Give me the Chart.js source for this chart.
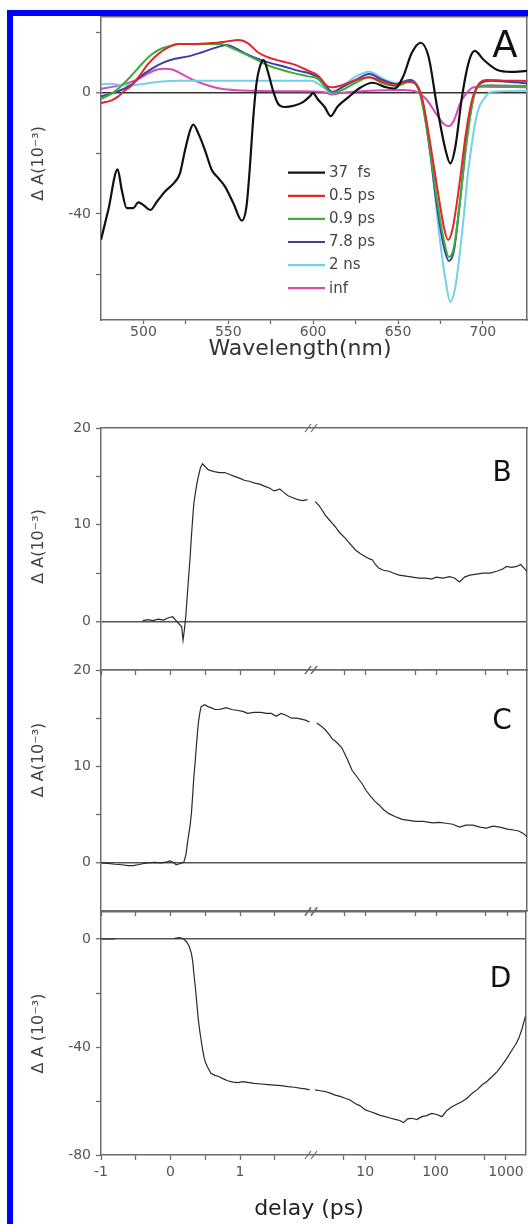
<!DOCTYPE html>
<html>
<head>
<meta charset="utf-8">
<script src="https://cdn.jsdelivr.net/npm/chart.js@4.4.1/dist/chart.umd.min.js"></script>
<style>
  html, body { margin: 0; padding: 0; background: #fff; }
  #page { position: relative; width: 528px; height: 1224px; overflow: hidden; background: #fff; }
  #frame { position: absolute; left: 7px; top: 10px; right: -20px; bottom: -20px;
           border-left: 6px solid #0000ff; border-top: 6px solid #0000ff; }
  canvas { position: absolute; }
  #delayTitle { position: absolute; left: 209px; top: 1195px; width: 200px; height: 28px;
                text-align: center; line-height: 28px; color: #222;
                font: 22px 'DejaVu Sans', sans-serif; }
</style>
</head>
<body>
<div id="page">
  <div id="frame"></div>
  <canvas id="chartA" width="528" height="400" style="left:0;top:0"></canvas>
  <canvas id="bLin" width="311" height="270" style="left:0;top:414px"></canvas>
  <canvas id="bLog" width="228" height="270" style="left:300px;top:414px"></canvas>
  <canvas id="cLin" width="311" height="269" style="left:0;top:656px"></canvas>
  <canvas id="cLog" width="228" height="269" style="left:300px;top:656px"></canvas>
  <canvas id="dLin" width="311" height="326" style="left:0;top:898px"></canvas>
  <canvas id="dLog" width="228" height="326" style="left:300px;top:898px"></canvas>
  <div id="delayTitle">delay (ps)</div>
</div>
<script>
// ---- panel A : transient spectra (wavelength nm, dA 10^-3) ----
const seriesNames = ['37  fs', '0.5 ps', '0.9 ps', '7.8 ps', '2 ns', 'inf'];
const seriesColors = ['#111111', '#e3262b', '#3aae3a', '#3b3fa6', '#74d0ea', '#d64cb4'];

const wl37fs = [475, 479.3, 484.8, 487.2, 490.2, 494, 497, 500, 504, 508, 512.7, 518.6, 521.5, 524.5, 527.5, 529.4, 532.4, 536.3, 540.3, 544.2, 548.1, 553, 558, 560.7, 562.6, 564.6, 566.6, 568.5, 570.8, 573.4, 576.3, 579.3, 583.2, 589.1, 594, 598, 600, 602.5, 606.8, 610.3, 614.3, 621.2, 627, 635, 643, 648, 653, 658, 663.3, 668, 673, 678, 680.8, 683.8, 687.7, 691.7, 695.2, 700.6, 708.5, 716.5, 726];
const dA37fs = [-48.5, -38.7, -25.3, -32, -38.1, -38.1, -36.2, -37.1, -38.7, -35.9, -32.6, -29.4, -26.6, -19, -12.4, -10.5, -13.5, -19, -25.5, -28.2, -31, -36.5, -42.2, -37.6, -25.5, -9.1, 3, 8.4, 10.8, 6.8, 0.8, -3.6, -4.7, -4.2, -3.1, -1.2, -0.1, -2, -4.7, -7.7, -4.6, -1.3, 1.4, 3.3, 1.8, 1.4, 5.3, 13, 16.5, 11.9, -4.6, -18.9, -23.3, -17.8, -1.3, 10.2, 13.8, 10.8, 7.5, 6.9, 7.2];

const wl05ps = [475, 481.2, 485.2, 489.1, 493, 497, 502.8, 508.7, 514.6, 520.5, 530.3, 540.1, 550, 555.8, 561.7, 567.6, 573.4, 581.3, 589.1, 597, 602.8, 607.8, 611, 617, 625, 633, 641, 647, 655, 660, 664, 668, 673, 677, 679.5, 682, 686, 690, 693.6, 697.6, 702.6, 712.5, 726];
const dA05ps = [-3.4, -2.5, -1.2, 0.8, 2.4, 5.1, 9.5, 12.8, 15, 16.1, 16.1, 16.4, 17, 17.4, 16.3, 13.3, 11.7, 10.4, 9.3, 7.3, 5.7, 2.4, 1.8, 2.5, 4.2, 5.1, 3.6, 2.5, 3.6, 3.1, -1.3, -13.4, -31, -44.2, -48.6, -45.3, -31, -13.4, -2.4, 2.9, 4.2, 4, 3.9];

const wl09ps = [475, 481.2, 487.2, 493, 499, 504.8, 510.7, 516.6, 520.5, 530.3, 540.1, 546, 551.9, 557.8, 565.6, 573.4, 581.3, 589.1, 597, 602.8, 608.7, 611, 617, 625, 633, 641, 649, 657, 662, 668, 673, 677, 680, 683, 686.6, 690.6, 694.6, 698.5, 704.5, 726];
const dA09ps = [-2, -0.3, 2.4, 5.7, 9.5, 12.6, 14.6, 15.5, 16.1, 16, 16.1, 16.1, 14.8, 13.3, 11.2, 9, 7.6, 6.4, 5.4, 4.6, 0.8, 0, 0.9, 3.3, 5.1, 3.1, 2.2, 3.6, 1.4, -15.6, -35.4, -48.6, -54.2, -50.8, -35.4, -15.6, -1.3, 2.3, 2.5, 2.2];

const wl78ps = [475, 481.2, 487.2, 493, 499, 504.8, 510.7, 518.5, 526.4, 534.2, 542.1, 549, 553.8, 559.7, 567.6, 575.4, 583.2, 591, 598.9, 604.8, 609.7, 611, 617, 625, 633, 641, 649, 657, 661, 665, 669, 673, 677, 680, 683, 686.6, 690.6, 694.6, 698.5, 704.5, 726];
const dA78ps = [-1.2, -0.3, 1, 2.7, 5.7, 7.9, 9.7, 11.2, 12, 13.3, 14.8, 15.8, 14.8, 13, 11.2, 9.7, 8.6, 7.3, 6.2, 4.3, 0.8, 0.3, 1.8, 4.2, 6.2, 4.2, 2.9, 4.2, 2.5, -4.6, -20, -37.6, -50.8, -55.5, -51.9, -35.4, -14.5, -1.3, 3.1, 4, 3.1];

const wl2ns = [475, 480.3, 485.2, 493, 500.9, 510.7, 520.5, 540, 559.7, 579.3, 598.9, 606.8, 611, 617, 625, 633, 641, 649, 657, 662, 666, 670, 674, 678, 680.8, 683.8, 687.7, 691.7, 696.6, 701.6, 705.5, 726];
const dA2ns = [2.8, 3.0, 2.6, 2.5, 3, 3.7, 4, 4, 4, 4, 4, 1.4, -0.2, 2, 5.3, 6.9, 4.7, 3.1, 4.2, 1.8, -6.9, -24.4, -45.3, -61.8, -69, -64, -46.4, -24.4, -6.9, -1.3, 0.3, 0.7];

const wlInf = [475, 483.2, 491, 497, 502.8, 507.7, 512.6, 517.5, 522.5, 530.3, 538.1, 546, 555.8, 569.5, 589.1, 606.8, 611, 617, 633, 653, 661, 667, 673, 677, 680, 683, 686.6, 690.6, 694.6, 700.6, 726];
const dAInf = [1.3, 2.1, 3.2, 4.6, 6.4, 7.6, 7.9, 7.6, 6.2, 4, 2.4, 1.3, 0.8, 0.6, 0.5, 0.2, -0.6, 0, 0.7, 0.9, 0.3, -2.4, -7.4, -10.3, -11, -9.1, -3.5, 0, 1.8, 2, 1.8];

// ---- panels B, C, D : kinetics (delay ps, dA 10^-3); linear part then log part ----
const tB1 = [-0.4, -0.33, -0.25, -0.18, -0.1, -0.03, 0.03, 0.08, 0.13, 0.16, 0.18, 0.2, 0.22, 0.25, 0.28, 0.3, 0.32, 0.335, 0.36, 0.38, 0.41, 0.43, 0.46, 0.5, 0.54, 0.58, 0.63, 0.7, 0.78, 0.85, 0.92, 1.0, 1.06, 1.13, 1.21, 1.28, 1.35, 1.42, 1.49, 1.54, 1.57, 1.62, 1.69, 1.76, 1.83, 1.9, 1.97];
const dB1 = [0.1, 0.2, 0.1, 0.25, 0.15, 0.4, 0.5, 0.1, -0.3, -0.5, -1.9, -0.8, 0.6, 3.6, 6.5, 8.8, 10.8, 12.2, 13.4, 14.3, 15.3, 15.9, 16.3, 16.0, 15.7, 15.6, 15.5, 15.4, 15.4, 15.2, 15.0, 14.8, 14.6, 14.5, 14.3, 14.2, 14.0, 13.8, 13.5, 13.6, 13.7, 13.4, 13.0, 12.8, 12.6, 12.5, 12.6];
const tB2 = [1.94, 2.2, 2.45, 2.7, 3.0, 3.35, 3.74, 4.3, 5.2, 6.1, 7.2, 8.5, 10, 11.2, 12.4, 13.8, 15.5, 18, 21.4, 25, 29.8, 37, 46, 57, 71, 85, 100, 125, 153, 180, 212, 250, 295, 370, 456, 570, 707, 850, 980, 1150, 1360, 1550, 1740, 1900];
const dB2 = [12.4, 12.0, 11.5, 11.0, 10.6, 10.2, 9.8, 9.2, 8.6, 8.0, 7.4, 7.0, 6.7, 6.5, 6.4, 5.9, 5.5, 5.3, 5.2, 5.0, 4.8, 4.7, 4.6, 4.5, 4.5, 4.4, 4.6, 4.5, 4.65, 4.5, 4.1, 4.6, 4.8, 4.9, 5.0, 5.0, 5.2, 5.4, 5.7, 5.6, 5.7, 5.9, 5.5, 5.2];

const tC1 = [-1, -0.9, -0.8, -0.7, -0.61, -0.54, -0.47, -0.4, -0.33, -0.23, -0.13, -0.05, -0.01, 0.04, 0.08, 0.13, 0.19, 0.22, 0.25, 0.28, 0.3, 0.32, 0.335, 0.355, 0.37, 0.385, 0.4, 0.42, 0.44, 0.49, 0.54, 0.58, 0.64, 0.7, 0.75, 0.8, 0.88, 0.97, 1.04, 1.11, 1.2, 1.3, 1.38, 1.45, 1.52, 1.59, 1.66, 1.74, 1.81, 1.88, 1.94, 2.0];
const dC1 = [0, -0.05, -0.15, -0.2, -0.3, -0.3, -0.2, -0.1, 0, 0.05, 0, 0.1, 0.2, 0.05, -0.2, -0.1, 0.05, 0.8, 2.4, 3.8, 5.1, 7.2, 8.9, 10.5, 12.0, 13.3, 14.5, 15.5, 16.2, 16.4, 16.2, 16.1, 15.9, 15.9, 16.0, 16.1, 15.9, 15.8, 15.7, 15.5, 15.6, 15.6, 15.5, 15.5, 15.2, 15.5, 15.3, 15.0, 15.0, 14.9, 14.8, 14.6];
const tC2 = [2.05, 2.35, 2.7, 3.0, 3.35, 3.9, 4.65, 5.5, 6.45, 7.6, 8.95, 10.2, 11.8, 13.5, 15.5, 18, 21.4, 26, 33, 41, 51, 65, 88, 110, 137, 170, 212, 260, 329, 410, 509, 630, 787, 1000, 1217, 1450, 1686, 1900];
const dC2 = [14.5, 14.2, 13.8, 13.4, 12.9, 12.5, 11.9, 10.8, 9.6, 8.9, 8.2, 7.5, 6.9, 6.4, 6.0, 5.5, 5.1, 4.8, 4.5, 4.4, 4.3, 4.3, 4.15, 4.2, 4.1, 4.0, 3.7, 3.9, 3.9, 3.7, 3.6, 3.8, 3.7, 3.5, 3.4, 3.3, 3.05, 2.7];

const tD1 = [-1, -0.9, -0.8, -0.75, 0.06, 0.1, 0.13, 0.18, 0.23, 0.27, 0.3, 0.32, 0.335, 0.355, 0.37, 0.385, 0.4, 0.42, 0.44, 0.46, 0.48, 0.5, 0.53, 0.58, 0.64, 0.7, 0.76, 0.82, 0.9, 0.97, 1.04, 1.11, 1.2, 1.3, 1.4, 1.49, 1.59, 1.69, 1.78, 1.88, 1.94, 2.0];
const dD1 = [0, 0, 0, null, 0.2, 0.4, 0.5, 0.2, -1.0, -2.8, -5.3, -8.5, -12.7, -17.5, -21.4, -25.8, -30, -34, -37.4, -40.8, -43.6, -45.6, -47.3, -49.7, -50.5, -51, -51.8, -52.5, -53.0, -53.2, -52.8, -53.1, -53.5, -53.7, -53.9, -54.1, -54.3, -54.7, -54.9, -55.3, -55.5, -55.9];
const tD2 = [1.94, 2.3, 2.7, 3.2, 3.74, 4.4, 5.2, 6.1, 7.2, 8.5, 10, 11.7, 13.9, 16.4, 19.3, 22.6, 26.7, 31, 35, 40, 46, 54, 64, 75, 88, 104, 123, 145, 171, 200, 236, 280, 329, 390, 456, 540, 633, 750, 880, 1030, 1217, 1380, 1520, 1680, 1800, 1900];
const dD2 = [-55.9, -56.2, -56.5, -57.1, -57.8, -58.3, -59.0, -59.6, -60.9, -61.8, -63.3, -63.9, -64.6, -65.3, -65.8, -66.3, -66.8, -67.2, -68.0, -66.6, -66.4, -66.9, -65.8, -65.4, -64.6, -65.0, -65.8, -63.5, -62.1, -61.2, -60.3, -59.0, -57.2, -55.8, -54.1, -52.7, -51.0, -49.1, -46.7, -44.2, -41.1, -39.0, -36.8, -33.5, -30.6, -28.5];

// ---- ticks and tick labels ----
const wlTicks = [500, 525, 550, 575, 600, 625, 650, 675, 700];
const wlLabels = [500, 550, 600, 650, 700];
const yTicksA = [-60, -40, -20, 0, 20];
const yLabelsA = [-40, 0];
const yTicksBC = [0, 5, 10, 15, 20];
const yLabelsBC = [0, 10, 20];
const yTicksD = [-80, -60, -40, -20, 0];
const yLabelsD = [-80, -40, 0];
const linTicks = [-1, -0.5, 0, 0.5, 1, 1.5];
const linLabels = [-1, 0, 1];
const logTicks = [5, 10, 50, 100, 500, 1000];
const logLabels = [10, 100, 1000];

const AXIS = '#6c6c6c';
const FONT = "'DejaVu Sans', sans-serif";
Chart.defaults.font.family = FONT;
Chart.defaults.color = '#555';
Chart.defaults.animation = false;
Chart.defaults.plugins.legend.display = false;
Chart.defaults.plugins.tooltip.enabled = false;

function pts(xs, ys) { return xs.map((x, i) => ({ x: x, y: ys[i] })); }
function fixedTicks(list) { return s => { s.ticks = list.map(v => ({ value: v })); }; }
function onlyLabels(list) { return v => (list.includes(v) ? String(v) : ''); }

// letters, legend and the "//" axis break
const decor = {
  id: 'decor',
  afterDraw(chart, args, o) {
    const ctx = chart.ctx, a = chart.chartArea;
    ctx.save();
    if (o.letter) {
      ctx.font = o.letterSize + 'px ' + FONT;
      ctx.fillStyle = '#111';
      ctx.textAlign = 'center';
      ctx.textBaseline = 'middle';
      ctx.fillText(o.letter, a.right + o.letterDx, a.top + o.letterDy);
    }
    if (o.breakMark) {
      ctx.strokeStyle = AXIS;
      ctx.lineWidth = 1.2;
      [a.top, a.bottom].forEach(y => {
        [-3, 3].forEach(dx => {
          ctx.beginPath();
          ctx.moveTo(a.left + dx - 3, y + 4);
          ctx.lineTo(a.left + dx + 3, y - 4);
          ctx.stroke();
        });
      });
    }
    if (o.key) {
      ctx.font = '15px ' + FONT;
      ctx.textAlign = 'left';
      ctx.textBaseline = 'middle';
      chart.data.datasets.forEach((d, i) => {
        const y = a.top + o.key.dy + i * o.key.step;
        const x0 = a.left + o.key.dx;
        ctx.strokeStyle = d.borderColor;
        ctx.lineWidth = 2.2;
        ctx.beginPath();
        ctx.moveTo(x0, y);
        ctx.lineTo(x0 + o.key.len, y);
        ctx.stroke();
        ctx.fillStyle = '#444';
        ctx.fillText(d.label, x0 + o.key.len + 4, y + 0.5);
      });
    }
    ctx.restore();
  }
};

function frameTop() {
  return {
    type: 'linear', position: 'top', min: 0, max: 1, bounds: 'data',
    afterFit: s => { s.height = 0; },
    ticks: { display: false }, grid: { display: false },
    border: { color: AXIS, width: 1.5 }
  };
}

function leftY(min, max, tickList, labelList, title, zeroColor) {
  return {
    type: 'linear', position: 'left', min: min, max: max, bounds: 'data',
    afterBuildTicks: fixedTicks(tickList),
    afterFit: s => { s.width = 101; },
    ticks: { padding: 5, autoSkip: false, font: { size: 14 }, color: '#555', callback: onlyLabels(labelList) },
    grid: {
      drawOnChartArea: true, tickLength: 5, tickColor: AXIS, tickWidth: 1.3,
      color: c => (c.tick && c.tick.value === 0 ? zeroColor : 'rgba(0,0,0,0)'),
      lineWidth: c => (c.tick && c.tick.value === 0 ? 1.5 : 1)
    },
    border: { color: AXIS, width: 1.5 },
    title: { display: true, text: title, font: { size: 16 }, color: '#444', padding: { top: 29, bottom: 0 } }
  };
}

function rightY(min, max, zeroColor) {
  return {
    type: 'linear', position: 'right', min: min, max: max, bounds: 'data',
    afterBuildTicks: fixedTicks([0]),
    afterFit: s => { s.width = 1; },
    ticks: { display: false },
    grid: { display: zeroColor !== null, drawTicks: false, color: zeroColor || 'rgba(0,0,0,0)', lineWidth: 1.5 },
    border: { color: AXIS, width: 1.5 }
  };
}

// ---- panel A ----
const specX = [wl37fs, wl05ps, wl09ps, wl78ps, wl2ns, wlInf];
const specY = [dA37fs, dA05ps, dA09ps, dA78ps, dA2ns, dAInf];

new Chart(document.getElementById('chartA'), {
  type: 'line',
  data: {
    datasets: seriesNames.map((name, i) => ({
      label: name,
      data: pts(specX[i], specY[i]),
      borderColor: seriesColors[i],
      borderWidth: i === 0 ? 2.2 : 2,
      pointRadius: 0,
      cubicInterpolationMode: 'monotone',
      fill: false,
      xAxisID: 'x', yAxisID: 'y'
    }))
  },
  options: {
    responsive: false,
    layout: { padding: { top: 17, left: 0, right: 0, bottom: 0 } },
    scales: {
      x: {
        type: 'linear', position: 'bottom', min: 475, max: 726, bounds: 'data',
        afterBuildTicks: fixedTicks(wlTicks),
        afterFit: s => { s.height = 80; },
        ticks: { autoSkip: false, maxRotation: 0, padding: 0, font: { size: 14 }, color: '#555', callback: onlyLabels(wlLabels) },
        grid: { drawOnChartArea: false, tickLength: 4, tickColor: AXIS, tickWidth: 1.3 },
        border: { color: AXIS, width: 1.5 },
        title: { display: true, text: 'Wavelength(nm)    ', font: { size: 22 }, color: '#333', padding: { top: 0, bottom: 38 } }
      },
      xt: frameTop(),
      y: leftY(-75, 25, yTicksA, yLabelsA, '  Δ A(10⁻³)', '#333'),
      yr: rightY(-75, 25, null)
    },
    plugins: {
      decor: { letter: 'A', letterSize: 37, letterDx: -22, letterDy: 30,
               key: { dx: 187, dy: 155.7, step: 23.1, len: 37 } }
    }
  },
  plugins: [decor]
});

// ---- panels B, C, D (split delay axis: linear | log) ----
function panel(p) {
  const trace = (t, v) => [{
    data: pts(t, v), borderColor: '#2a2a2a', borderWidth: 1.2, pointRadius: 0,
    tension: 0, spanGaps: false, xAxisID: 'x', yAxisID: 'y'
  }];
  new Chart(document.getElementById(p.linId), {
    type: 'line',
    data: { datasets: trace(p.tLin, p.vLin) },
    options: {
      responsive: false,
      layout: { padding: { top: 14, left: 0, right: 0, bottom: 0 } },
      scales: {
        x: {
          type: 'linear', position: 'bottom', min: -1, max: 2.02, bounds: 'data',
          afterBuildTicks: fixedTicks(linTicks),
          afterFit: s => { s.height = p.bottomH; },
          ticks: { display: p.showX, autoSkip: false, maxRotation: 0, padding: 4, font: { size: 14 }, color: '#555', callback: onlyLabels(linLabels) },
          grid: { drawOnChartArea: false, tickLength: 5, tickColor: AXIS, tickWidth: 1.3 },
          border: { color: AXIS, width: 1.5 }
        },
        xt: frameTop(),
        y: leftY(p.yMin, p.yMax, p.yTicks, p.yLabels, p.title, '#555')
      }
    }
  });
  new Chart(document.getElementById(p.logId), {
    type: 'line',
    data: { datasets: trace(p.tLog, p.vLog) },
    options: {
      responsive: false,
      layout: { padding: { top: 14, left: 11, right: 0, bottom: 0 } },
      scales: {
        x: {
          type: 'logarithmic', position: 'bottom', min: 1.7, max: 1900, bounds: 'data',
          afterBuildTicks: fixedTicks(logTicks),
          afterFit: s => { s.height = p.bottomH; },
          ticks: { display: p.showX, autoSkip: false, maxRotation: 0, padding: 4, font: { size: 14 }, color: '#555', callback: onlyLabels(logLabels) },
          grid: { drawOnChartArea: false, tickLength: 5, tickColor: AXIS, tickWidth: 1.3 },
          border: { color: AXIS, width: 1.5 }
        },
        xt: frameTop(),
        y: rightY(p.yMin, p.yMax, '#555')
      },
      plugins: {
        decor: { letter: p.letter, letterSize: 28, letterDx: -25, letterDy: p.letterDy, breakMark: true }
      }
    },
    plugins: [decor]
  });
}

panel({ linId: 'bLin', logId: 'bLog', tLin: tB1, vLin: dB1, tLog: tB2, vLog: dB2,
        yMin: -5, yMax: 20, yTicks: yTicksBC, yLabels: yLabelsBC, title: ' Δ A(10⁻³)',
        bottomH: 14, showX: false, letter: 'B', letterDy: 46 });
panel({ linId: 'cLin', logId: 'cLog', tLin: tC1, vLin: dC1, tLog: tC2, vLog: dC2,
        yMin: -5, yMax: 20, yTicks: yTicksBC, yLabels: yLabelsBC, title: '            Δ A(10⁻³)',
        bottomH: 14, showX: false, letter: 'C', letterDy: 52 });
panel({ linId: 'dLin', logId: 'dLog', tLin: tD1, vLin: dD1, tLog: tD2, vLog: dD2,
        yMin: -80, yMax: 10, yTicks: yTicksD, yLabels: yLabelsD, title: 'Δ A (10⁻³)',
        bottomH: 69, showX: true, letter: 'D', letterDy: 68 });
</script>
</body>
</html>
